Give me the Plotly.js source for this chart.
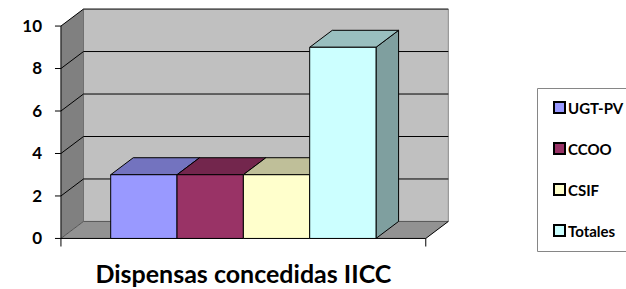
<!DOCTYPE html>
<html>
<head>
<meta charset="utf-8">
<script src="https://cdn.plot.ly/plotly-3.0.1.min.js"></script>
<style>html,body{margin:0;padding:0;background:#fff;}#chart{width:626px;height:289px;}</style>
</head>
<body>
<div id="chart"></div>
<script>
// ---- data ----
const categories = ['Dispensas concedidas IICC'];
const seriesNames = ['UGT-PV', 'CCOO', 'CSIF', 'Totales'];
const values = [3, 3, 3, 9];
const yTicks = [0, 2, 4, 6, 8, 10];

// ---- styles ----
const frontColors = ['#9999ff', '#993366', '#ffffcc', '#ccffff'];
const topColors = ['#7373bf', '#73264d', '#bfbf99', '#99bfbf'];
const sideColors = ['#5f5f9f', '#5f203f', '#9f9f7f', '#7f9f9f'];
const FONT = 'Lato, "Open Sans", sans-serif';

// 3D geometry (in axis units)
const DX = 0.34, DY = 0.8;
const XL = -1.25, XR = 4.25;
const YMAX = yTicks[yTicks.length - 1];

const W = 626, H = 289;
const M = {l: 51, r: 177, t: 8, b: 41};
const PW = W - M.l - M.r, PH = H - M.t - M.b;
const px2x = px => (px - M.l) / PW;   // pixel -> paper x
const px2y = py => (H - M.b - py) / PH; // pixel -> paper y

const positions = values.map((v, i) => i);

const traces = seriesNames.map((name, i) => ({
  type: 'bar',
  x: [positions[i]],
  y: [values[i]],
  width: 1,
  name: name,
  showlegend: false,
  marker: {color: frontColors[i], line: {color: '#000', width: 1}},
  hoverinfo: 'skip'
}));

const shapes = [];
const annotations = [];
const poly = pts => 'M' + pts.map(p => p[0] + ',' + p[1]).join('L') + 'Z';
// back wall
shapes.push({type: 'path', layer: 'between', xref: 'x', yref: 'y',
  path: poly([[XL + DX, DY], [XR + DX, DY], [XR + DX, YMAX + DY], [XL + DX, YMAX + DY]]),
  fillcolor: '#c0c0c0', line: {width: 0}});
// left wall
shapes.push({type: 'path', layer: 'between', xref: 'x', yref: 'y',
  path: poly([[XL, 0], [XL + DX, DY], [XL + DX, YMAX + DY], [XL, YMAX]]),
  fillcolor: '#808080', line: {width: 0}});
// floor
shapes.push({type: 'path', layer: 'between', xref: 'x', yref: 'y',
  path: poly([[XL, 0], [XR, 0], [XR + DX, DY], [XL + DX, DY]]),
  fillcolor: '#929292', line: {width: 0}});
// back wall right edge & corner line
shapes.push({type: 'line', layer: 'between', xref: 'x', yref: 'y',
  x0: XR + DX, x1: XR + DX, y0: DY, y1: YMAX + DY, line: {color: '#8a8a8a', width: 1}});
shapes.push({type: 'line', layer: 'between', xref: 'x', yref: 'y',
  x0: XL + DX, x1: XL + DX, y0: DY, y1: YMAX + DY, line: {color: '#707070', width: 1}});
// gridlines
yTicks.forEach(v => {
  const c = v === 0 ? '#555555' : '#000000';
  shapes.push({type: 'line', layer: 'between', xref: 'x', yref: 'y',
    x0: XL + DX, x1: XR + DX, y0: v + DY, y1: v + DY, line: {color: c, width: 1}});
  shapes.push({type: 'line', layer: 'between', xref: 'x', yref: 'y',
    x0: XL, x1: XL + DX, y0: v, y1: v + DY, line: {color: c, width: 1}});
  // y tick marks
  shapes.push({type: 'line', layer: 'between', xref: 'x', yref: 'y',
    x0: XL - 0.09, x1: XL, y0: v, y1: v, line: {color: '#000', width: 1}});
});
// front axis line, floor front and right edge
shapes.push({type: 'line', layer: 'between', xref: 'x', yref: 'y',
  x0: XL, x1: XL, y0: -0.38, y1: YMAX, line: {color: '#000', width: 1}});
shapes.push({type: 'line', layer: 'between', xref: 'x', yref: 'y',
  x0: XL, x1: XR, y0: 0, y1: 0, line: {color: '#000', width: 1}});
shapes.push({type: 'line', layer: 'between', xref: 'x', yref: 'y',
  x0: XR, x1: XR + DX, y0: 0, y1: DY, line: {color: '#000', width: 1}});
shapes.push({type: 'line', layer: 'between', xref: 'x', yref: 'y',
  x0: XR, x1: XR, y0: 0, y1: -0.38, line: {color: '#000', width: 1}});
// bar tops and sides
values.forEach((v, i) => {
  const x0 = positions[i] - 0.5, x1 = positions[i] + 0.5;
  shapes.push({type: 'path', layer: 'between', xref: 'x', yref: 'y',
    path: poly([[x1, 0], [x1 + DX, DY], [x1 + DX, v + DY], [x1, v]]),
    fillcolor: sideColors[i], line: {color: '#000', width: 1}});
  shapes.push({type: 'path', layer: 'between', xref: 'x', yref: 'y',
    path: poly([[x0, v], [x0 + DX, v + DY], [x1 + DX, v + DY], [x1, v]]),
    fillcolor: topColors[i], line: {color: '#000', width: 1}});
});

// legend (box, swatches, labels) built from the series arrays
shapes.push({type: 'rect', layer: 'above', xref: 'paper', yref: 'paper',
  x0: px2x(537.5), x1: px2x(660), y0: px2y(88.5), y1: px2y(251.5),
  fillcolor: '#fff', line: {color: '#868686', width: 1}});
seriesNames.forEach((name, i) => {
  const cy = 107.5 + i * 41;
  shapes.push({type: 'rect', layer: 'above', xref: 'paper', yref: 'paper',
    x0: px2x(554), x1: px2x(565), y0: px2y(cy - 5.5), y1: px2y(cy + 5.5),
    fillcolor: frontColors[i], line: {color: '#000', width: 2}});
  annotations.push({xref: 'paper', yref: 'paper', x: px2x(566), y: px2y(cy),
    xanchor: 'left', yanchor: 'middle', showarrow: false, text: name,
    font: {family: FONT, size: 15, color: '#000', weight: 'bold'}});
});

const layout = {
  width: W, height: H,
  margin: {l: M.l, r: M.r, t: M.t, b: M.b, autoexpand: false},
  paper_bgcolor: '#fff', plot_bgcolor: 'rgba(0,0,0,0)',
  barmode: 'overlay',
  showlegend: false,
  font: {family: FONT, color: '#000'},
  xaxis: {
    range: [-1.4, 4.6], showgrid: false, zeroline: false, showline: false,
    ticks: '', tickvals: [(positions[0] + positions[positions.length - 1]) / 2],
    ticktext: categories, ticklabelstandoff: 9,
    tickfont: {family: FONT, size: 25, color: '#000', weight: 'bold'},
    fixedrange: true
  },
  yaxis: {
    range: [-0.45, 10.85], showgrid: false, zeroline: false, showline: false,
    ticks: '', tickvals: yTicks, ticklabelstandoff: 8,
    tickfont: {family: FONT, size: 17, color: '#000', weight: 'bold'},
    fixedrange: true
  },
  shapes: shapes,
  annotations: annotations
};

Plotly.newPlot('chart', traces, layout, {staticPlot: true, displayModeBar: false});
</script>
</body>
</html>
